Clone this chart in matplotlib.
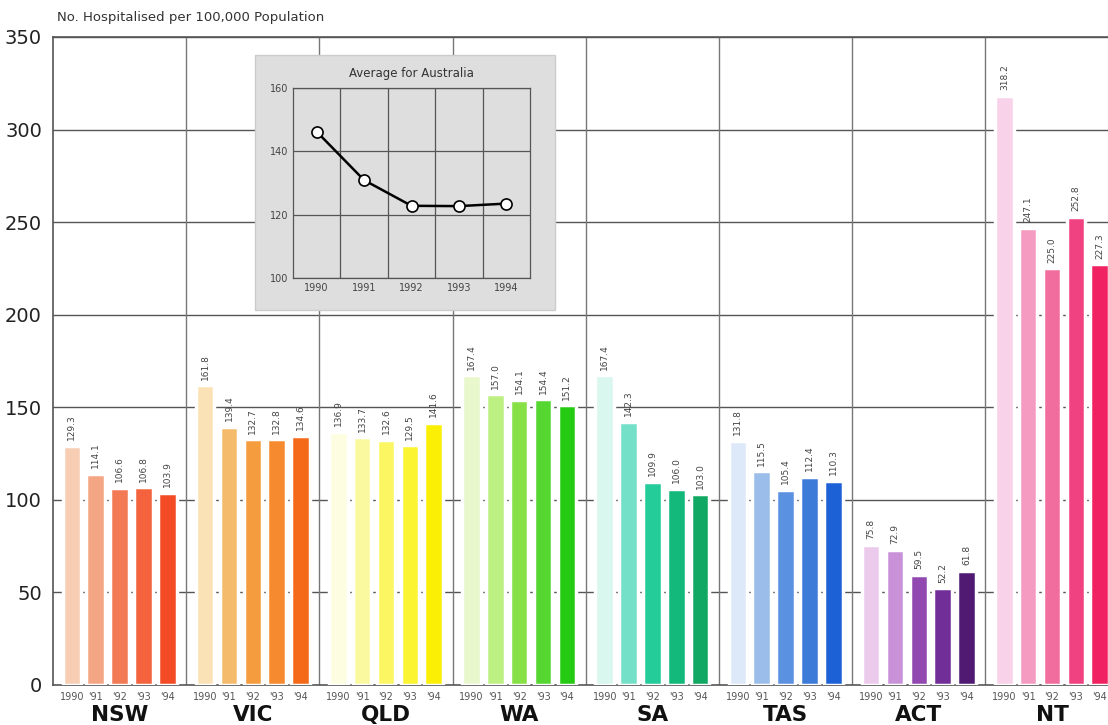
import numpy as np
import matplotlib
matplotlib.use("Agg")
import matplotlib.pyplot as plt
from matplotlib.patches import Rectangle

# Data
states = ["NSW", "VIC", "QLD", "WA", "SA", "TAS", "ACT", "NT"]
year_labels = ["1990", "'91", "'92", "'93", "'94"]

nsw = [129.3, 114.1, 106.6, 106.8, 103.9]
vic = [161.8, 139.4, 132.7, 132.8, 134.6]
qld = [136.9, 133.7, 132.6, 129.5, 141.6]
wa = [167.4, 157.0, 154.1, 154.4, 151.2]
sa = [167.4, 142.3, 109.9, 106.0, 103.0]
tas = [131.8, 115.5, 105.4, 112.4, 110.3]
act = [75.8, 72.9, 59.5, 52.2, 61.8]
nt = [318.2, 247.1, 225.0, 252.8, 227.3]
values = [nsw, vic, qld, wa, sa, tas, act, nt]

avg_years = [1990, 1991, 1992, 1993, 1994]
avg_values = [146.2, 130.9, 122.8, 122.7, 123.5]

# colour ramps, light -> dark, one per state
colours = [
    ["#f7ceb4", "#f3a584", "#f27a55", "#f4633d", "#f24b25"],
    ["#fbe2b6", "#f5bb6c", "#f59c3e", "#f58a2e", "#f46a18"],
    ["#fdfde2", "#fbf9a0", "#fbf662", "#fbf432", "#fbef06"],
    ["#e8f8cc", "#bdf083", "#86e046", "#55d631", "#25cb12"],
    ["#d9f7ee", "#74e0c8", "#23cc99", "#12b97a", "#10a862"],
    ["#dde8f8", "#9abde9", "#5a91e0", "#3d7bd8", "#1d61d6"],
    ["#eccaec", "#c992d8", "#9149b1", "#712d98", "#511a72"],
    ["#f8d2e8", "#f59bc2", "#f06d9d", "#f04281", "#f02262"],
]

W, H = 1108, 725
fig = plt.figure(figsize=(W / 100, H / 100), dpi=100)

# main axes: left spine at x=53, zero at y=685, 350 at y=37; 8 groups of ~133px
left_px, bottom_px, top_px, group_px = 53, 685, 37, 133.2
ax = fig.add_axes([left_px / W, 1 - bottom_px / H,
                   8 * group_px / W, (bottom_px - top_px) / H])
px_per_unit = (bottom_px - top_px) / 350

pitch = 0.179
bar_w = 0.139
first = 0.142
grid_col = "#555555"

for g, (vals, cols) in enumerate(zip(values, colours)):
    xs = g + first + pitch * np.arange(5)
    ax.bar(xs, vals, width=bar_w, color=cols, edgecolor="white",
           linewidth=2.5, zorder=3)
    for x, v in zip(xs, vals):
        ax.text(x, v + 3, f"{v:.1f}", rotation=90, ha="center", va="bottom",
                fontsize=6.5, color="#444444", zorder=4)
    for x, lab in zip(xs, year_labels):
        ax.text(x, -4, lab, ha="center", va="top", fontsize=7,
                color="#555555")
    ax.text(g + 0.5, -(721 - bottom_px) / px_per_unit, states[g],
            ha="center", va="baseline", fontsize=15.5, fontweight="bold",
            color="#111111")

ax.set_xlim(0, 8)
ax.set_ylim(0, 350)
ax.set_yticks(np.arange(0, 351, 50))
ax.set_xticks([])
ax.tick_params(axis="y", length=0, labelsize=14, pad=8, labelcolor="#222222")
for y in range(50, 351, 50):
    ax.axhline(y, color=grid_col, linewidth=1.0, zorder=1)
for g in range(1, 8):
    ax.axvline(g, color="#777777", linewidth=1.0, zorder=1)
ax.spines["right"].set_visible(False)
for s in ["left", "bottom", "top"]:
    ax.spines[s].set_color(grid_col)
    ax.spines[s].set_linewidth(1.2)

fig.text(57 / W, 1 - 18 / H, "No. Hospitalised per 100,000 Population",
         fontsize=9.5, color="#333333", va="center", ha="left")

# inset box with Australian average
box = Rectangle((255 / W, 1 - 310 / H), 300 / W, 255 / H,
                transform=fig.transFigure, facecolor="#dedede",
                edgecolor="#cccccc", zorder=5)
fig.patches.append(box)

iax = fig.add_axes([293 / W, 1 - 278 / H, 237 / W, 190 / H], zorder=6)
iax.set_facecolor("#dedede")
iax.plot(avg_years, avg_values, color="black", linewidth=1.8, marker="o",
         markersize=8, markerfacecolor="white", markeredgecolor="black",
         markeredgewidth=1.2, zorder=3)
iax.set_xlim(1989.5, 1994.5)
iax.set_ylim(100, 160)
iax.set_xticks(avg_years)
iax.set_yticks([100, 120, 140, 160])
iax.set_xticks([1990.5, 1991.5, 1992.5, 1993.5], minor=True)
iax.grid(which="minor", axis="x", color="#555555", linewidth=0.9)
iax.grid(which="major", axis="y", color="#555555", linewidth=0.9)
iax.tick_params(which="both", length=0, labelsize=7, labelcolor="#444444")
for s in iax.spines.values():
    s.set_color("#555555")
    s.set_linewidth(0.9)
iax.set_title("Average for Australia", fontsize=8.5, color="#333333", pad=8)

fig.savefig("out.png", dpi=100)
